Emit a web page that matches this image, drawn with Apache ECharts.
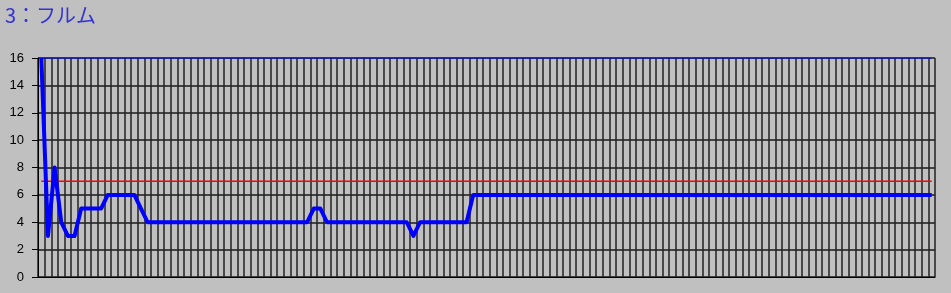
<!DOCTYPE html>
<html>
<head>
<meta charset="utf-8">
<script src="https://cdn.jsdelivr.net/npm/echarts@6/dist/echarts.min.js"></script>
<style>
  html, body { margin: 0; padding: 0; background: #c0c0c0; }
  #chart { width: 951px; height: 293px; }
</style>
</head>
<body>
<div id="chart"></div>
<script>
// ---- data ----
const titleText = '3：フルム';
const pointCount = 135;
const categories = Array.from({ length: pointCount }, (_, i) => String(i + 1));
const values = [
  16, 3, 8, 4, 3, 3, 5, 5, 5, 5,
  6, 6, 6, 6, 6, 5, 4, 4, 4, 4,
  4, 4, 4, 4, 4, 4, 4, 4, 4, 4,
  4, 4, 4, 4, 4, 4, 4, 4, 4, 4,
  4, 5, 5, 4, 4, 4, 4, 4, 4, 4,
  4, 4, 4, 4, 4, 4, 3, 4, 4, 4,
  4, 4, 4, 4, 4, 6, 6, 6, 6, 6,
  6, 6, 6, 6, 6, 6, 6, 6, 6, 6,
  6, 6, 6, 6, 6, 6, 6, 6, 6, 6,
  6, 6, 6, 6, 6, 6, 6, 6, 6, 6,
  6, 6, 6, 6, 6, 6, 6, 6, 6, 6,
  6, 6, 6, 6, 6, 6, 6, 6, 6, 6,
  6, 6, 6, 6, 6, 6, 6, 6, 6, 6,
  6, 6, 6, 6, 6
];
const limitLine = 7;   // red reference level
const upperLine = 16;  // blue upper reference level
const yTicks = [0, 2, 4, 6, 8, 10, 12, 14, 16];

// ---- chart ----
const chart = echarts.init(document.getElementById('chart'), null, { renderer: 'canvas' });

function refSeries(level, color, width) {
  return {
    type: 'line',
    data: categories.map(() => level),
    symbol: 'none',
    silent: true,
    z: 2,
    lineStyle: { color: color, width: width, type: 'solid' },
    itemStyle: { color: color }
  };
}

chart.setOption({
  animation: false,
  backgroundColor: '#c0c0c0',
  title: {
    text: titleText,
    left: 5,
    top: 5,
    padding: 0,
    textStyle: { color: '#3434d4', fontSize: 20, fontWeight: 'normal', fontFamily: 'Noto Sans CJK JP' }
  },
  grid: { left: 38, right: 16, top: 58, bottom: 16, containLabel: false, outerBoundsMode: 'none' },
  xAxis: {
    type: 'category',
    data: categories,
    boundaryGap: true,
    axisLine: { show: true, lineStyle: { color: '#000', width: 1 } },
    axisTick: { show: false },
    axisLabel: { show: false },
    splitLine: { show: true, interval: 0, lineStyle: { color: '#222', width: 1.5 } }
  },
  yAxis: {
    type: 'value',
    min: yTicks[0],
    max: yTicks[yTicks.length - 1],
    interval: yTicks[1] - yTicks[0],
    axisLine: { show: true, lineStyle: { color: '#000', width: 1 } },
    axisTick: { show: true, length: 6, lineStyle: { color: '#000', width: 1 } },
    axisLabel: { color: '#000', fontSize: 13, fontFamily: 'Liberation Sans', margin: 14 },
    splitLine: { show: true, lineStyle: { color: '#1a1a1a', width: 1.5 } }
  },
  series: [
    refSeries(limitLine, '#ff0000', 1.4),
    refSeries(upperLine, '#0000ff', 1),
    {
      type: 'line',
      data: values,
      symbol: 'none',
      z: 3,
      lineStyle: { color: '#0000ff', width: 4, join: 'round', cap: 'butt' },
      itemStyle: { color: '#0000ff' }
    }
  ]
});
</script>
</body>
</html>
